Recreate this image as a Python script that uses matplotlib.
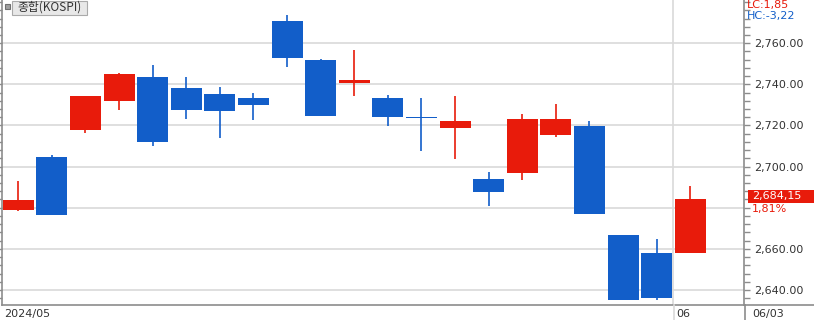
import matplotlib
matplotlib.use("Agg")
import matplotlib.pyplot as plt
from matplotlib.ticker import MultipleLocator, FixedLocator

# daily KOSPI candles, 2024/05 .. 06/03
opens  = [2679.0, 2704.5, 2717.9, 2731.9, 2743.7, 2738.2, 2735.3, 2733.3, 2770.7, 2751.7, 2740.7,
          2733.3, 2723.6, 2718.8, 2693.8, 2696.9, 2715.4, 2719.7, 2666.8, 2658.2, 2657.9]
highs  = [2692.8, 2705.5, 2734.4, 2745.3, 2749.2, 2743.7, 2738.7, 2735.8, 2773.7, 2752.2, 2756.7,
          2734.8, 2733.3, 2734.3, 2697.2, 2725.5, 2730.4, 2722.1, 2666.8, 2665.0, 2690.6]
lows   = [2678.4, 2676.5, 2716.4, 2727.5, 2710.0, 2723.2, 2714.0, 2722.7, 2748.3, 2724.7, 2734.4,
          2719.8, 2707.6, 2703.7, 2680.8, 2693.5, 2714.4, 2677.0, 2635.3, 2635.3, 2657.9]
closes = [2683.6, 2676.5, 2734.3, 2745.2, 2712.0, 2727.6, 2727.1, 2730.0, 2752.8, 2724.7, 2742.2,
          2724.2, 2723.4, 2722.1, 2687.6, 2723.1, 2723.1, 2677.0, 2635.3, 2636.3, 2684.0]
month_start = 20          # first candle of June
y_ticks = [2640, 2660, 2680, 2700, 2720, 2740, 2760]
y_labels = ["2,640.00", "2,660.00", "", "2,700.00", "2,720.00", "2,740.00", "2,760.00"]
last_price = "2,684,15"
last_pct = "1,81%"

RED = "#e81b0b"
BLUE = "#125ec9"
GRID = "#d9d9d9"
AXC = "#8c8c8c"

W, H = 814, 320
fig = plt.figure(figsize=(W / 100, H / 100), dpi=100)
ax = fig.add_axes([2 / W, 15 / H, 742 / W, 305 / H])

for i in range(len(opens)):
    o, h, l, c = opens[i], highs[i], lows[i], closes[i]
    col = RED if c >= o else BLUE
    ax.vlines(i, l, h, color=col, lw=1.2, zorder=3)
    ax.bar(i, max(abs(c - o), 0.5), bottom=min(o, c), width=0.92, color=col, linewidth=0, zorder=4)

ax.set_xlim(-0.485, 21.6)
ax.set_ylim(2632.7, 2781.0)

ax.yaxis.set_major_locator(FixedLocator(y_ticks))
ax.set_yticklabels(y_labels)
ax.yaxis.set_minor_locator(MultipleLocator(4))
ax.yaxis.tick_right()
ax.tick_params(axis="y", which="both", direction="out", length=4, width=1, color=AXC,
               labelsize=8, labelcolor="#333333", pad=3, left=True)
ax.set_xticks([])
ax.grid(axis="y", color=GRID, lw=1.2, zorder=0)
ax.axvline(month_start - 0.5, color=GRID, lw=1.2, zorder=0)

ax.spines["top"].set_visible(False)
for s in ["left", "right", "bottom"]:
    ax.spines[s].set_color(AXC)
    ax.spines[s].set_linewidth(1.2)

# extend right axis / month line below the plot
fig.add_artist(plt.Line2D([744.5 / W, 744.5 / W], [0, 15 / H], color=AXC, lw=1.2))
fig.add_artist(plt.Line2D([674.3 / W, 674.3 / W], [0, 15 / H], color=GRID, lw=1.2))
fig.add_artist(plt.Line2D([744.5 / W, 1], [15 / H, 15 / H], color=AXC, lw=1.2))

fig.text(4 / W, 6 / H, "2024/05", fontsize=8, color="#333333", va="center")
fig.text(676 / W, 6 / H, "06", fontsize=8, color="#333333", va="center")
fig.text(752 / W, 6 / H, "06/03", fontsize=8, color="#333333", va="center")

# legend box
fig.patches.append(plt.Rectangle((5 / W, 1 - 9 / H), 5 / W, 5 / H, transform=fig.transFigure,
                                 fc="#a0a0a0", ec="#707070", lw=0.8, zorder=5))
fig.patches.append(plt.Rectangle((12 / W, 1 - 14.5 / H), 75 / W, 14 / H, transform=fig.transFigure,
                                 fc="#e8e8e8", ec="#aaaaaa", lw=0.8, zorder=5))
fig.text(49.5 / W, 1 - 7.5 / H, "종합(KOSPI)", fontsize=8.5, color="#333333", va="center", ha="center",
         family=["Noto Sans CJK KR", "DejaVu Sans"], zorder=6)

fig.text(747 / W, 1 - 5 / H, "LC:1,85", fontsize=8, color=RED, va="center")
fig.text(747 / W, 1 - 16 / H, "HC:-3,22", fontsize=8, color=BLUE, va="center")

# last price tag
fig.patches.append(plt.Rectangle((748 / W, 1 - 203 / H), 66 / W, 13 / H,
                                 transform=fig.transFigure, fc=RED, ec="none", zorder=5))
fig.text(752 / W, 1 - 196.5 / H, last_price, fontsize=8, color="white", va="center", zorder=6)
fig.text(752 / W, 1 - 209 / H, last_pct, fontsize=8, color=RED, va="center", zorder=6)

fig.savefig("out.png", dpi=100)
